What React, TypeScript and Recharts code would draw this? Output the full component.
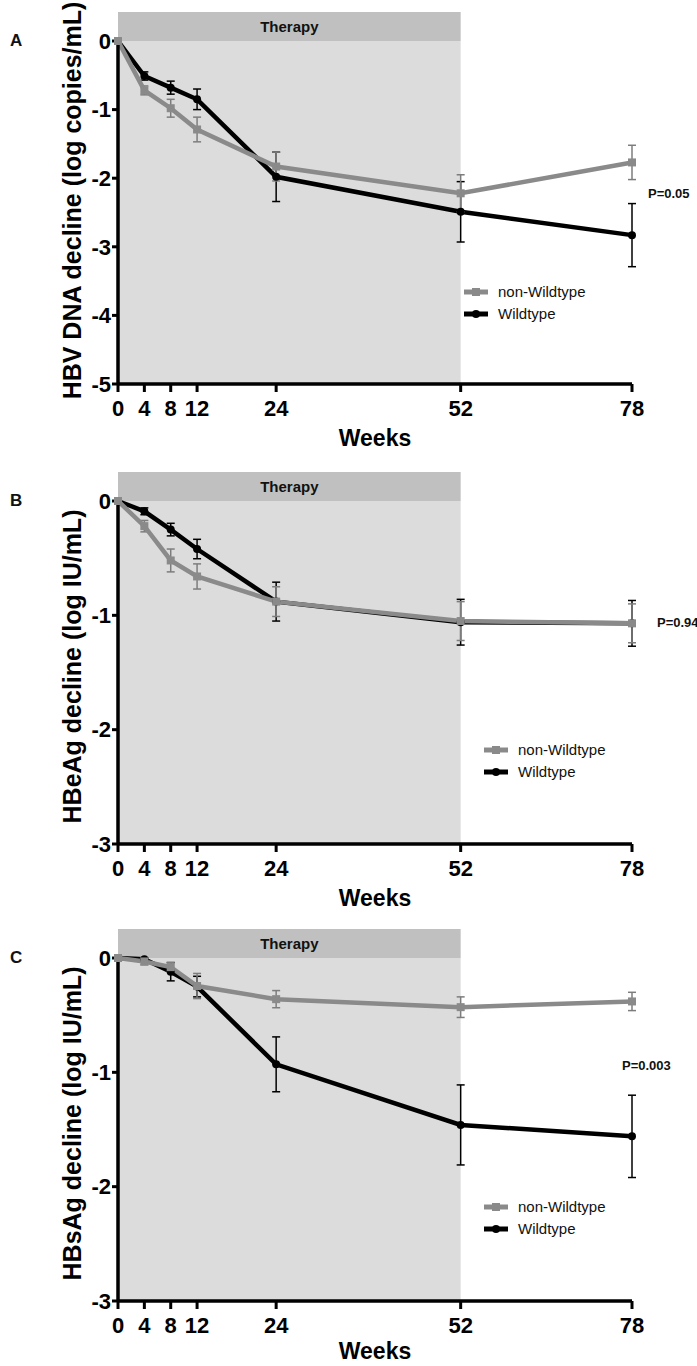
import React from "react";
import {
  LineChart,
  Line,
  XAxis,
  YAxis,
  ErrorBar,
  ReferenceArea,
  ReferenceDot,
  Legend,
} from "recharts";

const FONT = '"Liberation Sans", Arial, Helvetica, sans-serif';
const GREY = "#8a8a8a";
const GREY_ERR = "#7d7d7d";

// weeks on therapy / follow-up
const weeks = [0, 4, 8, 12, 24, 52, 78];
const weekTicks = [0, 4, 8, 12, 24, 52, 78];
const therapyEnd = 52;

// A: HBV DNA decline
const dnaNonWild = [0, -0.72, -0.98, -1.29, -1.83, -2.22, -1.77];
const dnaNonWildErr = [0, 0.065, 0.13, 0.18, 0.21, 0.27, 0.25];
const dnaWild = [0, -0.51, -0.68, -0.85, -1.98, -2.49, -2.83];
const dnaWildErr = [0, 0.06, 0.095, 0.15, 0.36, 0.44, 0.46];

// B: HBeAg decline
const eagNonWild = [0, -0.22, -0.52, -0.66, -0.88, -1.05, -1.07];
const eagNonWildErr = [0, 0.05, 0.1, 0.11, 0.13, 0.17, 0.17];
const eagWild = [0, -0.09, -0.25, -0.42, -0.88, -1.06, -1.07];
const eagWildErr = [0, 0.03, 0.055, 0.085, 0.17, 0.2, 0.2];

// C: HBsAg decline
const sagNonWild = [0, -0.03, -0.08, -0.245, -0.36, -0.43, -0.38];
const sagNonWildErr = [0, 0.03, 0.04, 0.11, 0.075, 0.09, 0.08];
const sagWild = [0, -0.01, -0.12, -0.25, -0.93, -1.46, -1.56];
const sagWildErr = [0, 0.01, 0.08, 0.09, 0.24, 0.35, 0.36];

const dnaTicks = [0, -1, -2, -3, -4, -5];
const agTicks = [0, -1, -2, -3];

const buildRows = (nw: number[], nwErr: number[], wt: number[], wtErr: number[]) =>
  weeks.map((w, i) => ({ week: w, nw: nw[i], nwErr: nwErr[i], wt: wt[i], wtErr: wtErr[i] }));

const SquareDot = (p: any) =>
  p.cx == null || p.cy == null ? null : (
    <rect key={`sq-${p.index}`} x={p.cx - 4} y={p.cy - 4} width={8} height={8} fill={GREY} />
  );

const RoundDot = (p: any) =>
  p.cx == null || p.cy == null ? null : (
    <circle key={`ci-${p.index}`} cx={p.cx} cy={p.cy} r={4} fill="#000" />
  );

const LegendBox = () => (
  <div style={{ fontFamily: FONT, fontSize: 15, color: "#111", lineHeight: "22px" }}>
    <div style={{ display: "flex", alignItems: "center", height: 22 }}>
      <svg width={24} height={10}>
        <line x1={0} y1={5} x2={24} y2={5} stroke={GREY} strokeWidth={5} />
        <rect x={8} y={1} width={8} height={8} fill={GREY} />
      </svg>
      <span style={{ marginLeft: 10 }}>non-Wildtype</span>
    </div>
    <div style={{ display: "flex", alignItems: "center", height: 22 }}>
      <svg width={24} height={10}>
        <line x1={0} y1={5} x2={24} y2={5} stroke="#000" strokeWidth={5} />
        <circle cx={12} cy={5} r={4} fill="#000" />
      </svg>
      <span style={{ marginLeft: 10 }}>Wildtype</span>
    </div>
  </div>
);

type PanelProps = {
  top: number;
  letter: string;
  rows: any[];
  yMin: number;
  yTicks: number[];
  yLabel: string;
  labelDy: number;
  pText: string;
  pY: number;
  pOffset: number;
  legendLeft: number;
  legendTop: number;
  weeksOffset: number;
};

const PLOT_TOP = 41;
const PLOT_H = 343;
const X_AXIS_H = 86;
const HEADER_PX = 29;

const Panel = ({
  top,
  letter,
  rows,
  yMin,
  yTicks,
  yLabel,
  labelDy,
  pText,
  pY,
  pOffset,
  legendLeft,
  legendTop,
  weeksOffset,
}: PanelProps) => {
  const header = (HEADER_PX / PLOT_H) * -yMin;
  return (
    <div style={{ position: "absolute", left: 0, top, width: 697 }}>
      <div
        style={{
          position: "absolute",
          left: 10,
          top: PLOT_TOP - 10,
          fontFamily: FONT,
          fontWeight: "bold",
          fontSize: 17,
          lineHeight: "20px",
          color: "#111",
        }}
      >
        {letter}
      </div>
      <LineChart
        width={697}
        height={PLOT_TOP + PLOT_H + X_AXIS_H}
        data={rows}
        margin={{ top: PLOT_TOP, right: 65, bottom: 0, left: 0 }}
        style={{ fontFamily: FONT }}
      >
        <ReferenceArea x1={0} x2={therapyEnd} fill="#dcdcdc" fillOpacity={1} stroke="none" />
        <ReferenceArea
          x1={0}
          x2={therapyEnd}
          y1={0}
          y2={header}
          ifOverflow="visible"
          fill="#c0c0c0"
          fillOpacity={1}
          stroke="none"
          label={{ value: "Therapy", position: "center", fontSize: 15, fontWeight: "bold", fill: "#111" }}
        />
        <XAxis
          type="number"
          dataKey="week"
          domain={[0, 78]}
          ticks={weekTicks}
          interval={0}
          height={X_AXIS_H}
          tickSize={8}
          tickMargin={8}
          axisLine={{ stroke: "#000", strokeWidth: 3.5 }}
          tickLine={{ stroke: "#000", strokeWidth: 3 }}
          tick={{ fontSize: 22, fontWeight: "bold", fill: "#000" }}
          label={{
            value: "Weeks",
            position: "insideTop",
            offset: weeksOffset,
            fontSize: 23,
            fontWeight: "bold",
            fill: "#000",
          }}
        />
        <YAxis
          type="number"
          domain={[yMin, 0]}
          ticks={yTicks}
          interval={0}
          width={118}
          tickSize={6}
          tickMargin={1}
          axisLine={{ stroke: "#000", strokeWidth: 3.5 }}
          tickLine={{ stroke: "#000", strokeWidth: 3 }}
          tick={{ fontSize: 22, fontWeight: "bold", fill: "#000" }}
          label={{
            value: yLabel,
            angle: -90,
            position: "insideLeft",
            offset: 72,
            dy: labelDy,
            fontSize: 25,
            fontWeight: "bold",
            fill: "#000",
            style: { textAnchor: "middle" },
          }}
        />
        <Line
          type="linear"
          dataKey="wt"
          name="Wildtype"
          stroke="#000"
          strokeWidth={4.5}
          dot={RoundDot}
          activeDot={false}
          isAnimationActive={false}
        >
          <ErrorBar dataKey="wtErr" direction="y" width={4} stroke="#000" strokeWidth={1.5} />
        </Line>
        <Line
          type="linear"
          dataKey="nw"
          name="non-Wildtype"
          stroke={GREY}
          strokeWidth={4.5}
          dot={SquareDot}
          activeDot={false}
          isAnimationActive={false}
        >
          <ErrorBar dataKey="nwErr" direction="y" width={4} stroke={GREY_ERR} strokeWidth={1.5} />
        </Line>
        <ReferenceDot
          x={78}
          y={pY}
          r={0}
          fill="none"
          stroke="none"
          ifOverflow="visible"
          label={{ value: pText, position: "right", offset: pOffset, fontSize: 13, fontWeight: "bold", fill: "#111" }}
        />
        <Legend
          layout="horizontal"
          verticalAlign="middle"
          align="center"
          content={() => <LegendBox />}
          wrapperStyle={{ left: legendLeft, top: legendTop, width: 200, height: 50, marginTop: 0 }}
        />
      </LineChart>
    </div>
  );
};

export default function App() {
  return (
    <div
      style={{
        position: "absolute",
        left: 0,
        top: 0,
        width: 697,
        height: 1366,
        overflow: "hidden",
        background: "#fff",
      }}
    >
      <Panel
        top={0}
        letter="A"
        rows={buildRows(dnaNonWild, dnaNonWildErr, dnaWild, dnaWildErr)}
        yMin={-5}
        yTicks={dnaTicks}
        yLabel="HBV DNA decline (log copies/mL)"
        labelDy={-12}
        pText="P=0.05"
        pY={-2.22}
        pOffset={16}
        legendLeft={464}
        legendTop={281}
        weeksOffset={46}
      />
      <Panel
        top={460}
        letter="B"
        rows={buildRows(eagNonWild, eagNonWildErr, eagWild, eagWildErr)}
        yMin={-3}
        yTicks={agTicks}
        yLabel="HBeAg decline (log IU/mL)"
        labelDy={-6}
        pText="P=0.94"
        pY={-1.06}
        pOffset={25}
        legendLeft={484}
        legendTop={279}
        weeksOffset={46}
      />
      <Panel
        top={917}
        letter="C"
        rows={buildRows(sagNonWild, sagNonWildErr, sagWild, sagWildErr)}
        yMin={-3}
        yTicks={agTicks}
        yLabel="HBsAg decline (log IU/mL)"
        labelDy={-6}
        pText="P=0.003"
        pY={-0.94}
        pOffset={-10}
        legendLeft={484}
        legendTop={279}
        weeksOffset={42}
      />
    </div>
  );
}
